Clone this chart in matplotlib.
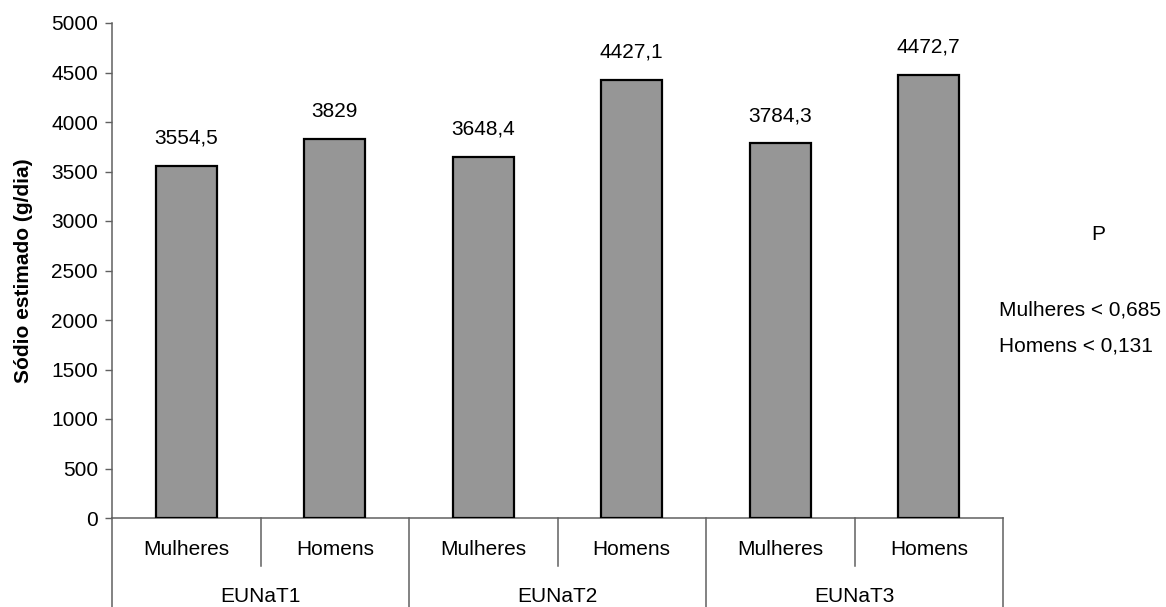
import matplotlib.pyplot as plt
import matplotlib.transforms as mtransforms

plt.rcParams['font.family'] = ['Liberation Sans', 'DejaVu Sans']

# sodium estimate per group and sex
grupos = ['EUNaT1', 'EUNaT2', 'EUNaT3']
sexos = ['Mulheres', 'Homens']
valores = [3554.5, 3829, 3648.4, 4427.1, 3784.3, 4472.7]
p_textos = ['Mulheres < 0,685', 'Homens < 0,131']

fs = 15

fig = plt.figure(figsize=(11.66, 6.07), dpi=100)
ax = fig.add_axes([112 / 1166, 1 - 518 / 607, 891 / 1166, 495 / 607])

x = list(range(len(valores)))
ax.bar(x, valores, width=0.41, color='#969696', edgecolor='black', linewidth=1.6, zorder=3)

for xi, v in zip(x, valores):
    ax.annotate(f"{v:g}".replace('.', ','), (xi, v), xytext=(0, 20),
                textcoords='offset points', ha='center', va='center', fontsize=fs)

ax.set_xlim(-0.5, len(valores) - 0.5)
ax.set_ylim(0, 5000)
ax.set_yticks(range(0, 5001, 500))
ax.tick_params(axis='y', direction='out', length=5, width=1, color='#606060', labelsize=fs, pad=5)
ax.set_xticks([])
for side in ['top', 'right']:
    ax.spines[side].set_visible(False)
for side in ['left', 'bottom']:
    ax.spines[side].set_color('#606060')
    ax.spines[side].set_linewidth(1.1)

ax.set_ylabel('Sódio estimado (g/dia)', fontsize=fs, fontweight='bold', labelpad=13)

# two-level category axis below the plot
trans = mtransforms.blended_transform_factory(ax.transData, ax.transAxes)
for i, xi in enumerate(x):
    ax.text(xi, -0.063, sexos[i % 2], transform=trans, ha='center', va='center', fontsize=fs)
for k in range(1, len(valores)):
    bottom = -0.18 if k % 2 == 0 else -0.097
    ax.plot([k - 0.5, k - 0.5], [0, bottom], transform=trans, color='#606060',
            linewidth=1.1, clip_on=False)
for edge in [-0.5, len(valores) - 0.5]:
    ax.plot([edge, edge], [0, -0.18], transform=trans, color='#606060',
            linewidth=1.1, clip_on=False)
for g, nome in enumerate(grupos):
    ax.text(2 * g + 0.5, -0.158, nome, transform=trans, ha='center', va='center', fontsize=fs)

fig.text(1098 / 1166, 1 - 235 / 607, 'P', ha='center', va='center', fontsize=fs)
for j, t in enumerate(p_textos):
    fig.text(999 / 1166, 1 - (310 + 36 * j) / 607, t, ha='left', va='center', fontsize=fs)

fig.savefig('out.png', dpi=100)
